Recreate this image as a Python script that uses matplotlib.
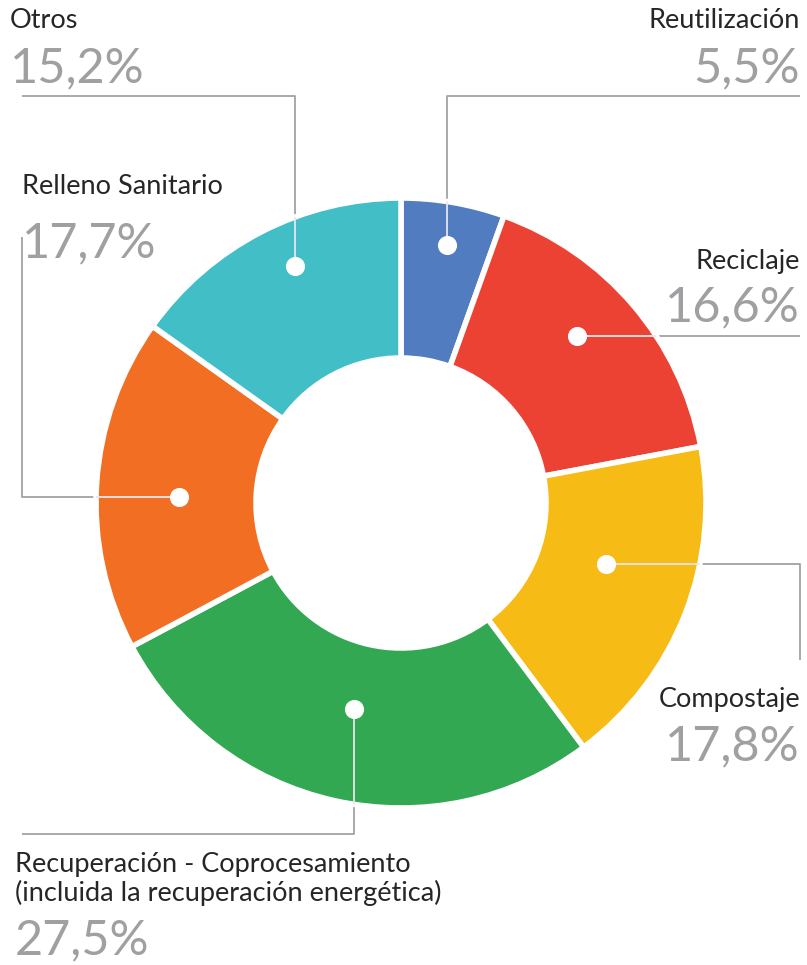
import numpy as np
import matplotlib.pyplot as plt
from matplotlib.patches import Circle

categorias = ["Reutilización", "Reciclaje", "Compostaje",
              "Recuperación - Coprocesamiento\n(incluida la recuperación energética)",
              "Relleno Sanitario", "Otros"]
valores = [5.5, 16.6, 17.8, 27.5, 17.7, 15.2]
etiquetas = ["5,5%", "16,6%", "17,8%", "27,5%", "17,7%", "15,2%"]
colores = ["#517cc0", "#ec4234", "#f7bb16", "#32a852", "#f26e22", "#42bec7"]

W, H = 807, 965
cx, cy = 401, H - 503
R, r_in = 305, 145

plt.rcParams['font.family'] = ['Lato', 'DejaVu Sans']

fig = plt.figure(figsize=(W / 100, H / 100), dpi=100)
ax = fig.add_axes([0, 0, 1, 1])

wedges, _ = ax.pie(valores, colors=colores, startangle=90, counterclock=False,
                   center=(cx, cy), radius=R, frame=True,
                   wedgeprops=dict(width=R - r_in, edgecolor='white', linewidth=4, zorder=2))
ax.set_xlim(0, W)
ax.set_ylim(0, H)
ax.set_aspect('equal')
ax.axis('off')

# angulo medio de cada porcion
tot = sum(valores)
acum = np.cumsum([0] + valores[:-1])
medios = [90 - 360 * (a + v / 2) / tot for a, v in zip(acum, valores)]

# ubicacion del punto: desvio angular y radio (pixeles)
desvio = [-0.2, 3.0, 4.8, -0.4, 2.2, -3.2]
radio_punto = [262, 243, 214, 211, 222, 260]
guias = [
    [("v", 96), ("h", 800)],
    [("h", 800)],
    [("h", 800), ("v", 660)],
    [("v", 834), ("h", 22)],
    [("h", 22), ("v", 237)],
    [("v", 96), ("h", 22)],
]
# posicion de textos: (x, y_nombre, y_valor, alineacion)
textos = [
    (800, 21, 68, 'right'),
    (800, 262, 307, 'right'),
    (800, 700, 746, 'right'),
    (15, 879, 940, 'left'),
    (22, 187, 243, 'left'),
    (10, 21, 68, 'left'),
]

circulo = Circle((cx, cy), R, transform=ax.transData)

for i in range(len(valores)):
    ang = np.deg2rad(medios[i] + desvio[i])
    px = cx + radio_punto[i] * np.cos(ang)
    py = cy + radio_punto[i] * np.sin(ang)
    xs, ys = [px], [py]
    for tipo, val in guias[i]:
        if tipo == "v":
            xs.append(xs[-1]); ys.append(H - val)
        else:
            xs.append(val); ys.append(ys[-1])
    ax.plot(xs, ys, color='#a3a3a6', lw=1.3, zorder=1, solid_capstyle='butt')
    ln, = ax.plot(xs, ys, color='#e6e6ee', lw=1.3, zorder=3)
    ln.set_clip_path(circulo)
    ax.scatter([px], [py], s=190, color='white', zorder=4, linewidths=0)

    tx, yn, yv, ha = textos[i]
    ax.text(tx, H - yn, categorias[i], ha=ha, va='center', fontsize=19.5,
            color='#262626', linespacing=1.15)
    ax.text(tx, H - yv, etiquetas[i], ha=ha, va='center', fontsize=35,
            color='#a0a0a2')

fig.savefig('out.png', dpi=100, facecolor='white')
